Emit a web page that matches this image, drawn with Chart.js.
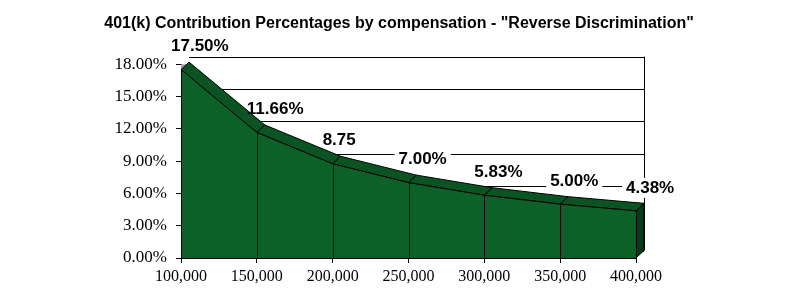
<!DOCTYPE html>
<html>
<head>
<meta charset="utf-8">
<script src="https://cdn.jsdelivr.net/npm/chart.js@4/dist/chart.umd.min.js"></script>
<style>
  html, body { margin: 0; padding: 0; background: #ffffff; }
  canvas { display: block; }
</style>
</head>
<body>
<canvas id="c" width="798" height="301"></canvas>
<script>
// ---- data ----
const categories = ['100,000', '150,000', '200,000', '250,000', '300,000', '350,000', '400,000'];
const contributionPct = [17.50, 11.66, 8.75, 7.00, 5.83, 5.00, 4.38];
const pointLabels = ['17.50%', '11.66%', '8.75', '7.00%', '5.83%', '5.00%', '4.38%'];
const yTickMin = 0;
const yTickMax = 18;
const yTickStep = 3;
const chartTitle = '401(k) Contribution Percentages by compensation - "Reverse Discrimination"';

// ---- style ----
const FRONT = '#0b6127';
const TOP = '#0a5423';
const SIDE = '#063d19';
const WALL = '#a6a6a6';
const DX = 8, DY = -7.5;
const LABEL_FONT = 'bold 17px "Liberation Sans", Arial, sans-serif';

function labelPos(p) { return { tx: p.x - 10, ty: p.y - 23 }; }

const depthPlugin = {
  id: 'depth3d',
  beforeDatasetsDraw(chart) {
    const { ctx, chartArea: a, scales: { y } } = chart;
    const pts = chart.getDatasetMeta(0).data.map(p => ({ x: p.x, y: p.y }));
    ctx.save();
    // left side wall
    ctx.fillStyle = WALL;
    ctx.beginPath();
    ctx.moveTo(a.left, a.top);
    ctx.lineTo(a.left + DX, a.top);
    ctx.lineTo(a.left + DX, a.bottom + DY);
    ctx.lineTo(a.left, a.bottom);
    ctx.closePath();
    ctx.fill();
    // back wall gridlines
    ctx.strokeStyle = '#000';
    ctx.lineWidth = 1;
    y.ticks.forEach(t => {
      const py = Math.round(y.getPixelForValue(t.value) + DY) + 0.5;
      ctx.beginPath();
      ctx.moveTo(a.left + DX, py);
      ctx.lineTo(a.right + DX, py);
      ctx.stroke();
    });
    const rx = Math.round(a.right + DX) + 0.5;
    ctx.beginPath();
    ctx.moveTo(rx, a.top + DY);
    ctx.lineTo(rx, a.bottom + DY);
    ctx.stroke();

    // white label boxes (behind the area, over the gridlines)
    ctx.font = LABEL_FONT;
    pts.forEach((p, i) => {
      const { tx, ty } = labelPos(p);
      const w = ctx.measureText(pointLabels[i]).width;
      ctx.fillStyle = '#fff';
      ctx.fillRect(tx - 4, ty - 10, w + 8, 20);
    });

    // top band
    for (let i = 0; i < pts.length - 1; i++) {
      const p = pts[i], q = pts[i + 1];
      ctx.beginPath();
      ctx.moveTo(p.x, p.y);
      ctx.lineTo(q.x, q.y);
      ctx.lineTo(q.x + DX, q.y + DY);
      ctx.lineTo(p.x + DX, p.y + DY);
      ctx.closePath();
      ctx.fillStyle = TOP;
      ctx.fill();
      ctx.strokeStyle = '#000';
      ctx.stroke();
    }
    // right side face
    const l = pts[pts.length - 1];
    ctx.beginPath();
    ctx.moveTo(l.x, l.y);
    ctx.lineTo(l.x + DX, l.y + DY);
    ctx.lineTo(l.x + DX, a.bottom + DY);
    ctx.lineTo(l.x, a.bottom);
    ctx.closePath();
    ctx.fillStyle = SIDE;
    ctx.fill();
    ctx.strokeStyle = '#000';
    ctx.stroke();
    ctx.restore();
  },
  afterDatasetsDraw(chart) {
    const { ctx, chartArea: a } = chart;
    const pts = chart.getDatasetMeta(0).data;
    ctx.save();
    ctx.strokeStyle = '#000';
    ctx.lineWidth = 1;
    pts.forEach(p => {
      const px = Math.round(p.x) + 0.5;
      ctx.beginPath();
      ctx.moveTo(px, p.y);
      ctx.lineTo(px, a.bottom);
      ctx.stroke();
    });
    ctx.font = LABEL_FONT;
    ctx.textBaseline = 'middle';
    ctx.textAlign = 'left';
    ctx.fillStyle = '#000';
    pts.forEach((p, i) => {
      const { tx, ty } = labelPos(p);
      ctx.fillText(pointLabels[i], tx, ty);
    });
    ctx.restore();
  }
};

new Chart(document.getElementById('c'), {
  type: 'line',
  data: {
    labels: categories,
    datasets: [{
      data: contributionPct,
      fill: 'origin',
      backgroundColor: FRONT,
      borderColor: '#000',
      borderWidth: 1,
      pointRadius: 0,
      tension: 0
    }]
  },
  options: {
    responsive: false,
    devicePixelRatio: 1,
    animation: false,
    layout: { padding: 0 },
    plugins: {
      legend: { display: false },
      tooltip: { enabled: false },
      title: {
        display: true,
        text: chartTitle,
        color: '#000',
        align: 'center',
        font: { family: '"Liberation Sans", Arial, sans-serif', size: 16, weight: 'bold' },
        padding: { top: 14, bottom: 31 }
      }
    },
    scales: {
      x: {
        offset: false,
        grid: { drawOnChartArea: false, drawTicks: true, tickLength: 5, color: '#000' },
        border: { display: true, color: '#000' },
        ticks: {
          color: '#000',
          padding: 4,
          maxRotation: 0,
          autoSkip: false,
          font: { family: '"Liberation Serif", "Times New Roman", serif', size: 16 }
        },
        afterFit(s) { s.height = 43; }
      },
      y: {
        min: yTickMin,
        max: yTickMax,
        grid: { drawOnChartArea: false, drawTicks: true, tickLength: 5, color: '#000' },
        border: { display: true, color: '#000' },
        ticks: {
          stepSize: yTickStep,
          color: '#000',
          padding: 9,
          callback: v => v.toFixed(2) + '%',
          font: { family: '"Liberation Serif", "Times New Roman", serif', size: 17 }
        },
        afterFit(s) { s.width = 181; }
      },
      yRight: {
        position: 'right',
        min: yTickMin,
        max: yTickMax,
        grid: { display: false, drawTicks: false },
        border: { display: false },
        ticks: { display: false },
        afterFit(s) { s.width = 162; }
      }
    }
  },
  plugins: [depthPlugin]
});
</script>
</body>
</html>
